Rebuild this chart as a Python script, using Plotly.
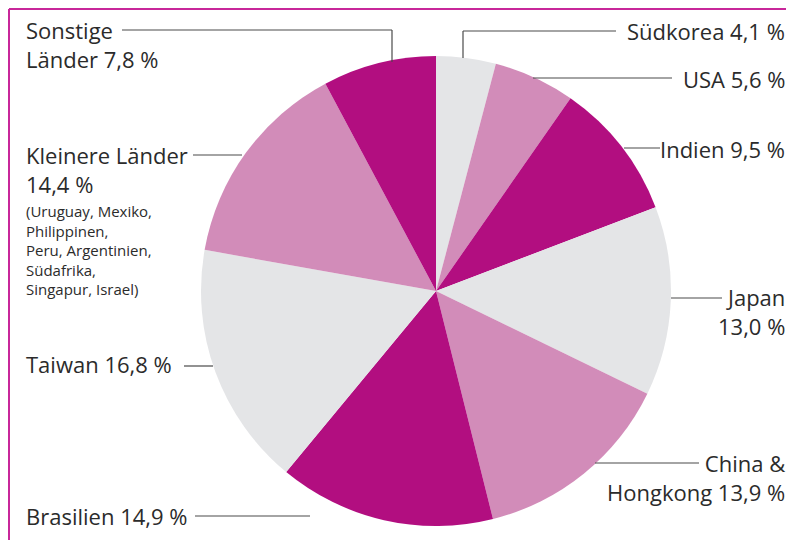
import plotly.graph_objects as go

# The page adds an 8px body margin; the figure is sized/positioned to compensate.
OFF = 8
W, H = 794 - OFF, 540 - OFF

countries = ["Südkorea", "USA", "Indien", "Japan", "China & Hongkong",
             "Brasilien", "Taiwan", "Kleinere Länder", "Sonstige Länder"]
shares = [4.1, 5.6, 9.5, 13.0, 13.9, 14.9, 16.8, 14.4, 7.8]
colors = ["#E4E5E7", "#D28CB9", "#B20E80", "#E4E5E7", "#D28CB9",
          "#B20E80", "#E4E5E7", "#D28CB9", "#B20E80"]

# label lines per slice (one entry per text line)
label_lines = [
    ["Südkorea 4,1 %"],
    ["USA 5,6 %"],
    ["Indien 9,5 %"],
    ["Japan", "13,0 %"],
    ["China &", "Hongkong 13,9 %"],
    ["Brasilien 14,9 %"],
    ["Taiwan 16,8 %"],
    ["Kleinere Länder", "14,4 %"],
    ["Sonstige", "Länder 7,8 %"],
]
small_note = ["(Uruguay, Mexiko,", "Philippinen,", "Peru, Argentinien,",
              "Südafrika,", "Singapur, Israel)"]

cx, cy, r = 436, 291, 235

def px(x):
    return (x - OFF) / W

def py(y):
    return 1 - (y - OFF) / H

fig = go.Figure(go.Pie(
    labels=countries, values=shares, sort=False, direction="clockwise",
    rotation=0, marker=dict(colors=colors, line=dict(width=0)),
    textinfo="none", hoverinfo="label+value", showlegend=False,
    domain=dict(x=[px(cx - r), px(cx + r)], y=[py(cy + r), py(cy - r)]),
))

FONT = "Open Sans"
TC = "#2b2b2b"
LC = "#4a4a4a"
BC = "#C8279A"

shapes = []
def line(x0, y0, x1, y1):
    shapes.append(dict(type="line", xref="paper", yref="paper",
                       x0=px(x0), y0=py(y0), x1=px(x1), y1=py(y1),
                       line=dict(color=LC, width=1.2)))

# border (top and left)
shapes.append(dict(type="line", xref="paper", yref="paper", x0=px(9), y0=py(9), x1=px(794), y1=py(9),
                   line=dict(color=BC, width=2)))
shapes.append(dict(type="line", xref="paper", yref="paper", x0=px(9), y0=py(9), x1=px(9), y1=py(540),
                   line=dict(color=BC, width=2)))

# leader lines
line(463, 31, 463, 58); line(463, 31, 616, 31)          # Südkorea
line(533, 78, 672, 78)                                   # USA
line(624, 148, 660, 148)                                 # Indien
line(671, 298, 722, 298)                                 # Japan
line(595, 463, 699, 463)                                 # China
line(195, 516, 310, 516)                                 # Brasilien
line(184, 366, 213, 366)                                 # Taiwan
line(193, 155, 242, 155)                                 # Kleinere
line(122, 30, 392, 30); line(392, 30, 392, 62)           # Sonstige

SIZE = 22
anns = []
def ann(text, x, y, xanchor, size=SIZE):
    anns.append(dict(text=text, x=px(x), y=py(y), xref="paper", yref="paper",
                     xanchor=xanchor, yanchor="middle", showarrow=False, align=xanchor,
                     font=dict(family=FONT, size=size, color=TC)))

# (x, first-line y, anchor) for each label block
positions = [
    (787, 31, "right"),
    (787, 79, "right"),
    (787, 149, "right"),
    (787, 297, "right"),
    (787, 463, "right"),
    (24, 516, "left"),
    (24, 364, "left"),
    (24, 155, "left"),
    (24, 30, "left"),
]
for lines, (x, y0, anchor) in zip(label_lines, positions):
    n = len(lines)
    yc = y0 + (n - 1) * SIZE * 1.3 / 2
    ann("<br>".join(lines), x, yc, anchor)

# small note as a single block (first line centred near y=212)
ann("<br>".join(small_note), 24, 250, "left", size=15)

fig.update_layout(width=W, height=H, margin=dict(l=0, r=0, t=0, b=0),
                  paper_bgcolor="white", plot_bgcolor="white",
                  shapes=shapes, annotations=anns)

fig.write_html("out.html")
